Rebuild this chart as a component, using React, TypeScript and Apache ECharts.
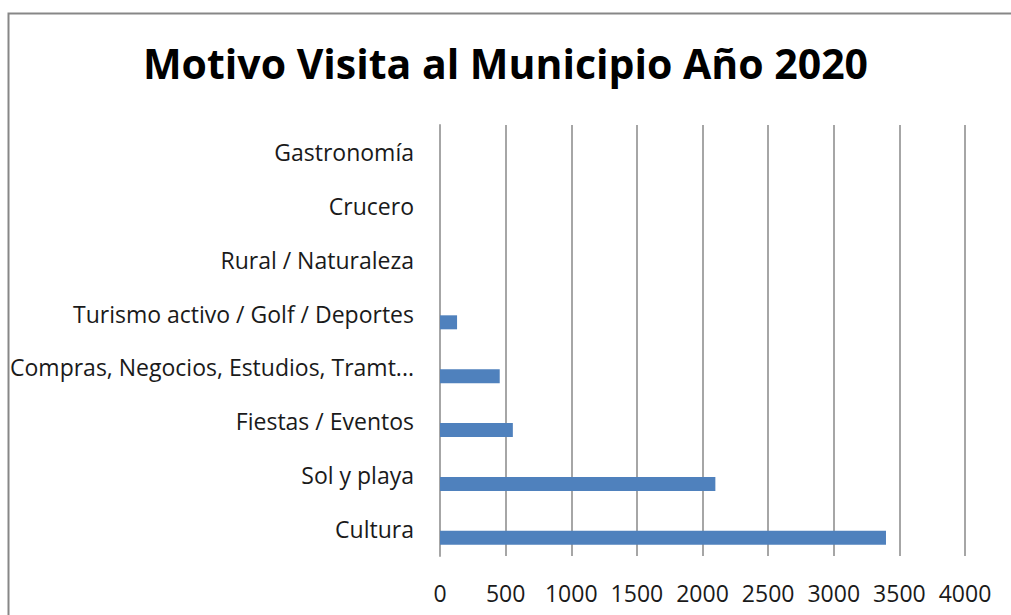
import React, { useEffect, useRef } from "react";
import * as echarts from "echarts";

const categories = [
  "Cultura",
  "Sol y playa",
  "Fiestas / Eventos",
  "Compras, Negocios, Estudios, Tramt...",
  "Turismo activo / Golf / Deportes",
  "Rural / Naturaleza",
  "Crucero",
  "Gastronomía",
];
const visitas = [3398, 2098, 555, 455, 130, 0, 0, 0];
const placeholder = [null, null, null, null, null, null, null, null];
const title = "Motivo Visita al Municipio Año 2020";

export default function App() {
  const ref = useRef<HTMLDivElement>(null);
  useEffect(() => {
    if (!ref.current) return;
    const chart = echarts.init(ref.current, undefined, { renderer: "svg" });
    const font = "'Open Sans', sans-serif";
    chart.setOption({
      animation: false,
      backgroundColor: "#ffffff",
      title: {
        text: title,
        left: "center",
        top: 37,
        textStyle: { fontFamily: font, fontWeight: "bold", fontSize: 41, color: "#000" },
      },
      graphic: [
        {
          type: "rect",
          shape: { x: 8.5, y: 13.5, width: 1010, height: 700 },
          style: { fill: "none", stroke: "#878787", lineWidth: 2 },
          silent: true,
        },
      ],
      grid: { left: 440, top: 125, right: 46, bottom: 59, containLabel: false },
      xAxis: {
        type: "value",
        min: 0,
        max: 4000,
        interval: 500,
        axisLine: { show: false },
        axisTick: { show: false },
        splitLine: { show: true, lineStyle: { color: "#a6a6a6", width: 2 } },
        axisLabel: {
          fontFamily: font,
          fontSize: 23,
          color: "#1a1a1a",
          margin: 25,
          formatter: (v: number) => String(v),
        },
      },
      yAxis: {
        type: "category",
        data: categories,
        axisLine: { show: true, lineStyle: { color: "#a6a6a6", width: 2 } },
        axisTick: { show: false },
        axisLabel: { fontFamily: font, fontSize: 23, color: "#1a1a1a", margin: 26 },
      },
      series: [
        {
          type: "bar",
          data: placeholder,
          barWidth: 14,
          barGap: "25%",
        },
        {
          type: "bar",
          data: visitas,
          barWidth: 14,
          barGap: "25%",
          itemStyle: { color: "#4f81bd" },
        },
      ],
    });
    return () => chart.dispose();
  }, []);
  return (
    <div
      ref={ref}
      style={{ position: "fixed", left: 0, top: 0, width: 1011, height: 615 }}
    />
  );
}
